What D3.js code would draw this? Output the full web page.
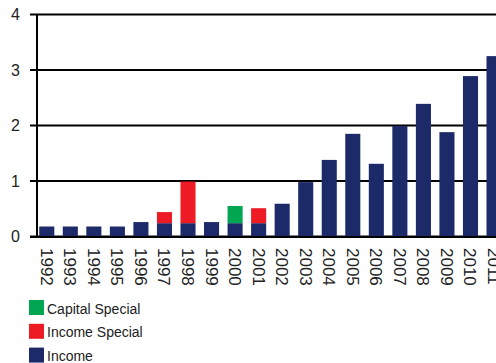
<!DOCTYPE html>
<html>
<head>
<meta charset="utf-8">
<script src="https://cdn.jsdelivr.net/npm/d3@7"></script>
<style>
  body { margin: 0; background: #fff; }
  text { font-family: "Liberation Sans", Arial, sans-serif; fill: #222; }
</style>
</head>
<body>
<div id="chart"></div>
<script>
// data
var years = ["1992","1993","1994","1995","1996","1997","1998","1999","2000","2001",
             "2002","2003","2004","2005","2006","2007","2008","2009","2010","2011"];
var income        = [0.18,0.18,0.18,0.18,0.26,0.24,0.24,0.26,0.24,0.24,
                     0.59,0.98,1.38,1.85,1.31,1.99,2.39,1.88,2.89,3.25];
var incomeSpecial = [0,0,0,0,0,0.20,0.75,0,0,0.27,0,0,0,0,0,0,0,0,0,0];
var capitalSpecial= [0,0,0,0,0,0,0,0,0.31,0,0,0,0,0,0,0,0,0,0,0];
var yTicks = [0,1,2,3,4];

var seriesNames = ["Income","Income Special","Capital Special"];
var colors = {"Income":"#1c2a6a","Income Special":"#ed1c24","Capital Special":"#00a651"};

var W = 496, H = 363;
var svg = d3.select("#chart").append("svg")
    .attr("width", W).attr("height", H);

var rows = years.map(function(y, i) {
  return {year: y, "Income": income[i], "Income Special": incomeSpecial[i], "Capital Special": capitalSpecial[i]};
});
var stacked = d3.stack().keys(seriesNames)(rows);

var step = 23.54;
var x = d3.scaleBand().domain(years)
    .range([35, 35 + step * years.length])
    .paddingInner(0.36).paddingOuter(0.18);
var y = d3.scaleLinear().domain([0, 4]).range([236.5, 14.5]);

// gridlines
svg.append("g").selectAll("line").data(yTicks).enter().append("line")
    .attr("x1", 30).attr("x2", W)
    .attr("y1", d => y(d)).attr("y2", d => y(d))
    .attr("stroke", "#000").attr("stroke-width", 2);

svg.append("g").selectAll("text").data(yTicks).enter().append("text")
    .attr("x", 20).attr("y", d => y(d) + 5.5)
    .attr("text-anchor", "end")
    .style("font-size", "16px")
    .text(d => d);

// bars
svg.append("g").selectAll("g").data(stacked).enter().append("g")
    .attr("fill", d => colors[d.key])
  .selectAll("rect").data(d => d).enter().append("rect")
    .attr("x", d => x(d.data.year))
    .attr("width", x.bandwidth())
    .attr("y", d => y(d[1]))
    .attr("height", d => y(d[0]) - y(d[1]));

// axes lines
svg.append("line").attr("x1", 37).attr("x2", 37).attr("y1", 14).attr("y2", 237)
    .attr("stroke", "#000").attr("stroke-width", 2);
svg.append("line").attr("x1", 30).attr("x2", W).attr("y1", 237).attr("y2", 237)
    .attr("stroke", "#000").attr("stroke-width", 2);

// year labels, rotated
svg.append("g").selectAll("text").data(years).enter().append("text")
    .attr("transform", d => "translate(" + (x(d) + x.bandwidth() / 2 - 6) + ",248) rotate(90)")
    .style("font-size", "17px")
    .text(d => d);

// legend
var legendOrder = ["Capital Special","Income Special","Income"];
var lg = svg.append("g").selectAll("g").data(legendOrder).enter().append("g")
    .attr("transform", (d, i) => "translate(29," + (300 + i * 23.8) + ")");
lg.append("rect").attr("width", 15).attr("height", 15).attr("fill", d => colors[d]);
lg.append("text").attr("x", 18).attr("y", 13.5)
    .style("font-size", "14px")
    .text(d => d);
</script>
</body>
</html>
